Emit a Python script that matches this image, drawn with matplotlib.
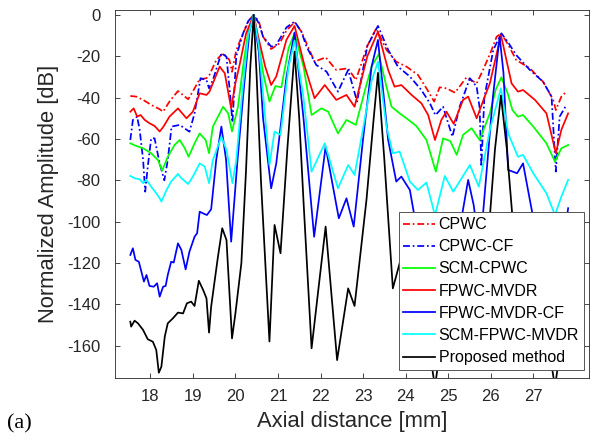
import matplotlib
matplotlib.use("Agg")
import matplotlib.pyplot as plt

plt.rcParams['font.family'] = ['Liberation Sans', 'DejaVu Sans']

# ---------------- data ----------------
cpwc_x = [17.53, 17.67, 17.83, 18.02, 18.22, 18.30, 18.45, 18.65, 18.89, 19.04, 19.16, 19.32, 19.39,
          19.55, 19.71, 19.86, 19.92, 20.02, 20.18, 20.32, 20.43, 20.55, 20.65, 20.84, 21.04, 21.2,
          21.39, 21.55, 21.67, 21.86, 22.12, 22.37, 22.65, 22.83, 23.1, 23.31, 23.55, 23.78, 24.02,
          24.29, 24.49, 24.67, 24.8, 24.96, 25.16, 25.43, 25.67, 25.82, 26.0, 26.14, 26.25, 26.4,
          26.6, 26.92, 27.23, 27.47, 27.53, 27.66, 27.78]
cpwc_y = [-39.2, -39.5, -41.1, -43.5, -45.6, -46.8, -41.9, -36.8, -40.8, -35.5, -31.1, -30.6, -29.0,
          -21.8, -18.5, -21.8, -27.5, -17.0, -8.9, -2.5, 0.0, -3.0, -10.5, -16.5, -13.7, -7.5,
          -3.5, -8.0, -13.7, -22.6, -20.5, -26.6, -25.8, -31.5, -15.0, -6.5, -16.9, -22.6, -25.0,
          -29.0, -35.5, -41.9, -35.0, -35.5, -37.6, -30.2, -33.1, -26.6, -18.0, -10.5, -8.9, -14.0,
          -21.8, -25.8, -32.3, -41.1, -46.0, -39.5, -37.1]

cpwccf_x = [17.53, 17.59, 17.69, 17.75, 17.83, 17.88, 17.94, 18.02, 18.1, 18.22, 18.33, 18.41, 18.5,
            18.69, 18.92, 19.04, 19.18, 19.32, 19.38, 19.47, 19.67, 19.79, 19.88, 19.93, 20.02,
            20.18, 20.3, 20.43, 20.55, 20.65, 20.84, 20.96, 21.2, 21.39, 21.55, 21.67, 21.9, 22.14,
            22.41, 22.65, 22.86, 23.1, 23.35, 23.59, 23.82, 24.1, 24.37, 24.57, 24.7, 24.88, 25.1,
            25.27, 25.51, 25.67, 25.74, 25.78, 25.85, 26.06, 26.25, 26.4, 26.6, 26.92, 27.23, 27.43,
            27.53, 27.62, 27.78]
cpwccf_y = [-60.5, -50.8, -49.2, -55.6, -70.0, -85.5, -73.4, -59.7, -59.7, -71.8, -80.0, -70.2, -54.0,
            -53.2, -56.5, -47.6, -30.6, -31.5, -35.5, -31.5, -18.5, -20.2, -39.5, -52.0, -20.0,
            -8.9, -3.0, 0.0, -4.0, -10.5, -15.3, -14.5, -6.0, -3.2, -8.0, -15.3, -24.2, -27.4,
            -37.1, -26.6, -41.9, -15.0, -5.3, -16.9, -25.0, -29.8, -36.3, -42.7, -48.5, -44.4, -58.9,
            -44.4, -30.6, -34.7, -45.0, -73.4, -40.0, -16.9, -8.9, -13.0, -19.4, -26.6, -32.3, -39.5,
            -75.8, -49.2, -43.5]

scm_x = [17.53, 17.67, 17.83, 18.02, 18.18, 18.28, 18.41, 18.57, 18.69, 18.81, 18.9, 19.04, 19.16,
         19.3, 19.38, 19.47, 19.71, 19.83, 19.92, 20.06, 20.18, 20.3, 20.43, 20.53, 20.65, 20.8,
         20.94, 21.08, 21.25, 21.39, 21.6, 21.79, 22.02, 22.18, 22.41, 22.61, 22.83, 23.05, 23.2,
         23.37, 23.55, 23.67, 23.86, 24.02, 24.25, 24.49, 24.71, 24.88, 25.05, 25.2, 25.35, 25.55,
         25.74, 25.98, 26.12, 26.25, 26.4, 26.51, 26.64, 26.76, 27.0, 27.31, 27.51, 27.66, 27.82]
scm_y = [-62.1, -63.4, -64.5, -66.9, -70.2, -75.3, -68.6, -62.9, -60.5, -64.5, -68.6, -62.1, -57.3,
         -60.5, -66.9, -54.0, -44.4, -47.6, -56.4, -44.4, -25.0, -8.0, 0.0, -12.0, -28.0, -41.9,
         -34.4, -35.0, -16.0, -8.9, -25.0, -48.4, -45.2, -46.8, -57.3, -50.8, -53.2, -36.0, -25.0,
         -18.9, -34.7, -44.4, -47.6, -50.0, -53.7, -60.5, -75.8, -59.7, -61.0, -67.7, -58.0, -54.8,
         -60.5, -47.6, -36.0, -30.2, -38.0, -46.0, -49.2, -48.4, -54.0, -62.1, -71.0, -64.5, -62.9]

fmv_x = [17.53, 17.61, 17.69, 17.77, 17.87, 17.98, 18.1, 18.22, 18.31, 18.45, 18.65, 18.85, 19.0,
         19.16, 19.32, 19.39, 19.63, 19.75, 19.9, 20.0, 20.1, 20.25, 20.43, 20.53, 20.7, 20.84,
         20.96, 21.2, 21.39, 21.63, 21.86, 22.1, 22.37, 22.61, 22.8, 23.1, 23.35, 23.59, 23.74,
         23.9, 24.14, 24.37, 24.53, 24.69, 24.84, 24.96, 25.13, 25.35, 25.47, 25.67, 25.85, 25.98,
         26.24, 26.49, 26.64, 26.76, 27.04, 27.31, 27.53, 27.66, 27.82]
fmv_y = [-46.8, -45.2, -49.2, -48.4, -50.8, -52.4, -53.7, -56.4, -54.0, -49.2, -45.2, -50.0, -46.8,
         -37.9, -38.7, -37.1, -25.0, -28.2, -45.2, -33.0, -24.0, -9.0, 0.0, -10.0, -25.0, -33.9,
         -29.8, -12.0, -5.3, -25.0, -40.3, -33.9, -41.1, -38.7, -44.4, -20.0, -8.1, -26.6, -34.7,
         -33.9, -38.7, -42.7, -48.4, -60.5, -50.8, -46.8, -52.7, -41.1, -39.5, -50.0, -40.0, -33.1,
         -9.7, -33.1, -37.1, -36.3, -41.1, -47.6, -66.9, -55.6, -47.6]

fmvcf_x = [17.53, 17.59, 17.65, 17.73, 17.79, 17.85, 17.91, 17.98, 18.08, 18.16, 18.22, 18.3, 18.36,
           18.41, 18.49, 18.55, 18.65, 18.73, 18.83, 18.92, 19.04, 19.1, 19.16, 19.24, 19.33, 19.43,
           19.55, 19.67, 19.78, 19.9, 20.05, 20.2, 20.33, 20.43, 20.55, 20.65, 20.84, 20.96, 21.2,
           21.39, 21.6, 21.85, 22.12, 22.43, 22.61, 22.78, 23.0, 23.2, 23.35, 23.59, 23.78, 23.9,
           24.1, 24.21, 24.4, 24.69, 24.85, 24.96, 25.15, 25.3, 25.47, 25.6, 25.75, 25.82, 25.9,
           26.05, 26.21, 26.3, 26.41, 26.62, 26.76, 26.92, 27.2, 27.51, 27.7, 27.82]
fmvcf_y = [-116.1, -112.9, -118.5, -119.4, -124.2, -129.0, -125.8, -131.1, -131.5, -129.8, -136.3,
           -131.5, -131.1, -125.8, -119.4, -119.8, -110.5, -113.7, -123.1, -114.5, -107.3, -105.6,
           -95.2, -96.0, -96.8, -94.0, -70.0, -54.0, -70.0, -109.7, -70.0, -35.0, -8.0, 0.0, -18.0,
           -50.0, -83.9, -71.8, -30.0, -8.5, -50.0, -107.3, -63.7, -98.4, -88.7, -102.4, -60.0,
           -25.0, -12.1, -60.5, -80.6, -78.2, -84.7, -97.6, -110.0, -150.0, -105.0, -97.6, -108.0,
           -100.0, -79.8, -92.0, -115.0, -96.0, -76.6, -40.0, -10.5, -28.0, -75.0, -76.6, -71.8,
           -89.5, -120.0, -155.0, -110.0, -93.5]

scmf_x = [17.53, 17.63, 17.75, 17.83, 17.91, 18.02, 18.14, 18.22, 18.26, 18.38, 18.49, 18.65, 18.73,
          18.89, 19.0, 19.16, 19.28, 19.38, 19.47, 19.67, 19.79, 19.93, 20.02, 20.15, 20.3, 20.43,
          20.55, 20.68, 20.8, 20.92, 21.06, 21.25, 21.39, 21.6, 21.79, 22.1, 22.41, 22.65, 22.8,
          23.0, 23.2, 23.35, 23.55, 23.7, 23.86, 24.1, 24.29, 24.49, 24.69, 24.92, 25.12, 25.51,
          25.72, 25.98, 26.24, 26.41, 26.64, 26.76, 27.0, 27.31, 27.51, 27.66, 27.82]
scmf_y = [-77.9, -79.0, -79.5, -81.4, -79.8, -83.1, -86.3, -88.7, -90.3, -84.7, -80.6, -76.9, -79.0,
          -81.8, -78.2, -71.8, -73.4, -81.4, -70.2, -58.9, -65.3, -81.4, -70.2, -40.0, -10.0, 0.0,
          -15.0, -45.0, -72.6, -56.4, -58.0, -25.0, -12.5, -40.0, -75.8, -62.1, -83.9, -72.6, -77.4,
          -55.0, -32.0, -22.6, -54.0, -66.9, -66.1, -80.6, -84.7, -81.1, -97.0, -77.9, -85.5, -72.6,
          -83.1, -55.6, -35.5, -57.3, -68.6, -67.7, -76.6, -86.3, -96.8, -87.9, -79.8]

prop_x = [17.53, 17.55, 17.63, 17.71, 17.83, 17.94, 18.06, 18.14, 18.2, 18.26, 18.34, 18.41, 18.53,
          18.65, 18.77, 18.86, 18.96, 19.04, 19.14, 19.24, 19.32, 19.38, 19.43, 19.59, 19.69, 19.79,
          19.92, 20.0, 20.14, 20.25, 20.35, 20.43, 20.5, 20.6, 20.8, 20.92, 21.06, 21.22, 21.39,
          21.5, 21.6, 21.79, 22.12, 22.39, 22.65, 22.8, 23.08, 23.25, 23.35, 23.5, 23.7, 23.86,
          24.1, 24.4, 24.69, 24.95, 25.2, 25.5, 25.8, 25.98, 26.1, 26.24, 26.38, 26.51, 26.8, 27.1,
          27.51, 27.82]
prop_y = [-148.4, -150.8, -147.9, -149.2, -152.4, -156.9, -158.1, -162.1, -173.1, -170.2, -155.6,
          -149.2, -146.8, -144.0, -144.4, -139.5, -138.7, -140.8, -128.6, -133.0, -137.1, -153.7,
          -141.1, -116.9, -103.2, -108.9, -156.5, -144.4, -120.1, -75.0, -25.0, 0.0, -30.0, -80.0,
          -158.0, -101.6, -115.3, -65.0, -17.7, -50.0, -90.0, -161.3, -102.4, -167.0, -132.3,
          -140.8, -89.5, -50.0, -28.0, -70.0, -132.3, -120.1, -110.0, -140.0, -180.0, -140.0,
          -120.0, -130.0, -110.0, -97.6, -65.0, -39.0, -65.0, -97.6, -130.0, -125.0, -180.0, -135.0]

labels = ['CPWC', 'CPWC-CF', 'SCM-CPWC', 'FPWC-MVDR', 'FPWC-MVDR-CF', 'SCM-FPWC-MVDR',
          'Proposed method']
x_ticks = [18, 19, 20, 21, 22, 23, 24, 25, 26, 27]
y_ticks = [0, -20, -40, -60, -80, -100, -120, -140, -160]

# ---------------- figure ----------------
fig = plt.figure(figsize=(5.91, 4.40), dpi=100)
ax = fig.add_axes([115 / 591, 1 - 378.3 / 440, 474 / 591, 368.3 / 440])

lw = 1.25
dd = (0, (4, 1.6, 1, 1.6))
series = [
    (cpwc_x, cpwc_y, '#FF0000', dd),
    (cpwccf_x, cpwccf_y, '#0000FF', dd),
    (scm_x, scm_y, '#00FF00', '-'),
    (fmv_x, fmv_y, '#FF0000', '-'),
    (fmvcf_x, fmvcf_y, '#0000FF', '-'),
    (scmf_x, scmf_y, '#00FFFF', '-'),
    (prop_x, prop_y, '#000000', '-'),
]
for (xs, ys, c, ls), lab in zip(series, labels):
    ax.plot(xs, ys, color=c, linestyle=ls, linewidth=lw, label=lab)

ax.set_xlim(17.17, 28.31)
ax.set_ylim(-175.8, 2.4)
ax.set_xticks(x_ticks)
ax.set_yticks(y_ticks)
ax.set_xticklabels([str(t) for t in x_ticks])
ax.set_yticklabels([str(t) for t in y_ticks])

axcol = '#262626'
for s in ax.spines.values():
    s.set_color(axcol)
    s.set_linewidth(0.6)
ax.tick_params(axis='both', which='both', direction='in', length=3.6, width=0.6,
               color=axcol, labelcolor=axcol, labelsize=12,
               top=True, right=True)
ax.tick_params(axis='y', pad=10.5)
ax.tick_params(axis='x', pad=8)

ax.set_xlabel('Axial distance [mm]', fontsize=15.8, color=axcol, labelpad=5)
ax.set_ylabel('Normalized Amplitude [dB]', fontsize=15.8, color=axcol, labelpad=6)

leg = ax.legend(loc='lower right', bbox_to_anchor=(0.989, 0.0225), borderaxespad=0,
                fontsize=11.5, frameon=True, fancybox=False, framealpha=1,
                handlelength=2.0, handletextpad=0.2, labelspacing=0.45, borderpad=0.3)
leg.get_frame().set_edgecolor('#555555')
leg.get_frame().set_linewidth(0.7)

fig.text(19.5 / 591, 1 - 424 / 440, '(a)', fontsize=16, ha='center', va='center',
         family=['Liberation Serif', 'DejaVu Serif'], color='black')

fig.savefig('out.png', dpi=100)
